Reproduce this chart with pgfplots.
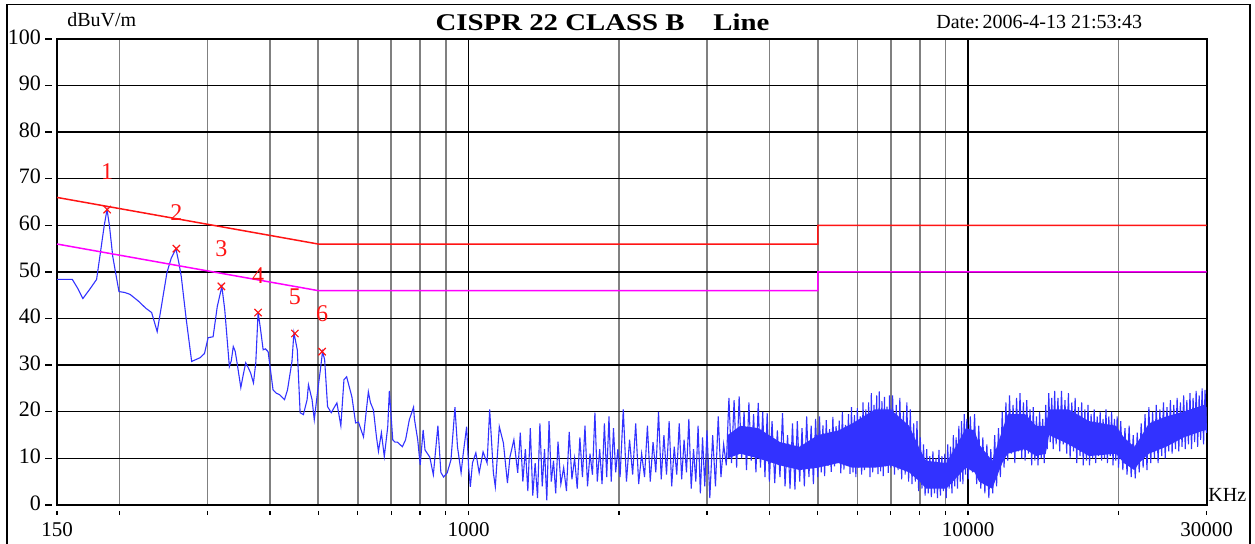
\documentclass[border=0pt]{standalone}
\usepackage{fontspec}
\setmainfont{Liberation Serif}
\usepackage{graphicx}
\usepackage{pgfplots}
\pgfplotsset{compat=1.18}
\definecolor{traceblue}{RGB}{50,50,255}
\definecolor{limred}{RGB}{255,20,20}
\definecolor{limmag}{RGB}{255,0,255}
\definecolor{gridgray}{RGB}{128,128,128}
\begin{document}
\begin{tikzpicture}[x=1pt,y=1pt]
\path[use as bounding box] (0,0) rectangle (627.5,272);
\draw[line width=0.8pt] (3.5,-2) -- (3.5,269.75) -- (625,269.75) -- (625,-2);
\begin{axis}[
  at={(28.5pt,19.5pt)}, anchor=south west,
  scale only axis, width=574.75pt, height=233pt,
  xmode=log, xmin=150, xmax=30000, ymin=0, ymax=100,
  xtick={150,1000,10000,30000}, xticklabels={150,1000,10000,30000},
  minor xtick={200,300,400,500,600,700,800,900,2000,3000,4000,5000,6000,7000,8000,9000,20000},
  ytick={0,10,20,30,40,50,60,70,80,90,100},
  yticklabels={0,10,20,30,40,50,60,70,80,90,100},
  grid=both,
  major grid style={black, line width=0.7pt},
  minor grid style={gridgray, line width=0.8pt},
  axis line style={line width=1pt},
  tick style={draw=none},
  xticklabel style={font=\fontsize{10.5pt}{12pt}\selectfont, anchor=base, yshift=-16pt},
  yticklabel style={font=\fontsize{11pt}{13pt}\selectfont, anchor=east, xshift=-4.5pt, yshift=1pt},
  clip=false,
]
% solid core of the dense part of the trace
\addplot[fill=traceblue, draw=none] coordinates {
(3300,15) (3500,17) (3800,16.5) (4200,13.5) (4600,12.5) (5000,15) (5500,16) (5860,17.5) (6500,20.5) (7000,20.5) (7620,17) (8000,12) (8240,9.5) (9040,9) (9500,13) (9900,16.5) (10300,16) (10520,13) (11170,9.5) (11700,16) (12000,19.5) (13000,19.5) (13680,17) (14300,17) (14520,20.5) (15900,20.5) (17460,18) (19770,17) (20500,14.5) (21500,12.5) (21985,14) (23000,17.5) (24900,19) (27000,20) (29660,21.5) (30000,21)
(30000,16) (29660,16) (27000,14.5) (24900,12.5) (23000,11) (21985,9) (21500,7.5) (20500,9) (19770,11) (17460,10.5) (15900,13) (14520,15) (14300,11) (13680,10.5) (13000,12) (12000,11) (11700,9) (11170,3.5) (10520,5) (10300,7) (9900,8) (9500,6) (9040,3.5) (8240,3.5) (8000,5) (7620,7) (7000,8.5) (6500,8) (5860,8) (5500,9) (5000,8) (4600,7.5) (4200,8.5) (3800,10) (3500,11) (3300,10)
} -- cycle;
% measured trace
\addplot[traceblue, line width=0.55pt] coordinates {
(150,48.4) (161,48.4) (165,46.5) (169,44.3) (175,46.5) (180,48.4) (183.6,54.8) (186.5,60) (188.9,63.4) (191,60) (194,53.3) (199.6,45.8) (205,45.6) (210,45.2) (218,43.8) (226,42.2) (232,41.3) (238,37.2) (243,43) (249,49.9) (254,53) (259.5,55.0) (263,52) (266,49) (272,40) (279,30.8) (290,31.6) (296,32.5) (301,35.9) (308,36.1) (314,42.6) (320.7,46.9) (325,41.9) (332,29.7) (335,31) (338,34) (341,33) (344,30.5) (350,25.2) (354,28) (358,30.5) (362,29.5) (366,28.4) (371,26.2) (375,30.5) (379,41.3) (383,38) (388,33.3) (392,33.5) (397,32.9) (406,24.7) (412,24) (418,23.7) (428,22.6) (434,24.7) (443,30.8) (447,37.0) (454,33.3) (460,19.8) (467,19.4) (475,22.6) (478,25.8) (486,22.6) (491,18.3) (499,24.7) (505,29) (510,32.9) (515,31.2) (522,21.1) (531,19.8) (538,20.9) (545,21.9) (555,17.0) (563,26.9) (570,27.5) (584,23.2) (594,17.6) (602,17.8) (616,14.6) (630,24.3) (636,22.0) (645,20.4) (654,14.6) (660,11.5) (669,15.5) (678,10.4) (689,16.8) (694,24.5) (705,14.0) (712,13.5) (720,13.5) (737,12.5) (748,14) (761,18.3) (776,21.0) (779,18.5) (791,14) (800,8.6) (811,16.1) (818,11.8) (836,10.3) (850,6.5) (868,17.0) (880,7.0) (891,6.0) (906,6.9) (922,9.7) (939,21.0) (950,12.5) (966,6.9) (975,10.8) (991,16.8) (1000,8.2) (1008,3.9) (1018,9.0) (1034,11.2) (1050,6.9) (1069,11.4) (1089,9.0) (1102,20.5) (1121,6.9) (1131,3.9) (1152,16.8) (1174,13.3) (1196,4.7) (1210,10.3) (1232,14) (1254,6.9)
(1269,15.5) (1284,5.0) (1299,12.0) (1314,3.0) (1329,16.5) (1344,2.0) (1359,9.0) (1374,1.5) (1389,17.5) (1404,4.0) (1419,12.0) (1434,1.0) (1449,18.0) (1464,5.0) (1479,9.5) (1494,2.5)
(1510,13.6) (1530,4.5) (1550,8.0) (1570,3.0) (1590,15.7) (1610,5.5) (1630,10.0) (1650,3.5) (1670,14.5) (1690,6.0) (1710,17.0) (1730,4.0) (1750,11.0) (1770,6.5) (1790,19.8) (1810,5.0) (1830,12.0) (1850,4.5) (1870,17.5) (1890,6.0) (1910,19.0) (1930,5.0) (1950,16.5) (1970,7.0) (1990,12.0)
(2010,6.0) (2040,20.5) (2070,5.0) (2100,14.0) (2130,6.5) (2160,17.5) (2190,4.5) (2220,11.0) (2250,6.0) (2280,17.0) (2310,5.0) (2340,13.5) (2370,7.0) (2400,20.0) (2430,5.5) (2460,15.0) (2490,6.5) (2520,18.0) (2550,4.0) (2580,12.5) (2610,6.5) (2640,17.5) (2670,5.5) (2700,14.0) (2730,7.0) (2760,18.5) (2790,3.5) (2820,12.0) (2850,5.0) (2880,17.0) (2910,2.5) (2940,14.5) (2970,4.0) (3000,16.0)
(3040,1.5) (3080,15.0) (3120,4.0) (3160,19.0) (3200,6.0) (3240,13.0) (3280,8.5) (3320,23.0) (3360,9.0) (3400,22.5) (3440,8.0) (3480,23.3) (3520,10.0) (3560,20.0) (3600,7.5) (3640,22.0) (3680,9.5) (3720,19.5) (3760,7.0) (3800,21.9) (3840,8.0) (3880,20.0) (3920,6.0) (3960,19.7) (4000,5.0)
(4050,18.0) (4100,4.7) (4150,16.0) (4200,6.0) (4250,19.7) (4300,4.0) (4350,15.0) (4400,3.5) (4450,17.5) (4500,3.3) (4550,18.0) (4600,5.0) (4650,16.5) (4700,4.0) (4750,19.0) (4800,6.0) (4850,17.0) (4900,4.5) (4950,18.5) (5000,6.0)
(5040,19.0) (5080,7.0) (5120,17.1) (5160,6.2) (5200,18.2) (5240,8.4) (5280,16.3) (5320,7.1) (5360,18.9) (5400,8.3) (5440,16.9) (5480,10.0) (5520,18.1) (5560,6.8) (5600,20.0) (5640,7.6) (5680,17.2) (5720,8.9) (5760,19.5) (5800,6.7) (5840,21.0) (5880,7.0) (5920,19.3) (5960,6.0) (6000,20.8) (6040,8.0) (6080,19.0) (6120,6.5) (6160,22.0) (6200,7.5) (6240,20.5) (6280,9.0) (6320,22.0) (6360,6.0) (6400,24.0) (6440,7.0) (6480,21.5) (6520,8.5) (6560,23.5) (6600,6.6) (6640,24.4) (6680,7.2) (6720,22.3) (6760,6.2) (6800,23.2) (6840,8.3) (6880,21.1) (6920,6.9) (6960,23.5) (7000,8.0)
(7060,23.5) (7120,6.5) (7180,21.5) (7240,7.5) (7300,23.0) (7360,5.5) (7420,20.0) (7480,6.5) (7540,22.0) (7600,5.0) (7660,20.5) (7720,4.5) (7780,17.5) (7840,5.0) (7900,18.0) (7960,3.0) (8020,14.5) (8080,3.5) (8140,13.0) (8200,2.0) (8260,12.0) (8320,2.5) (8380,10.5) (8440,1.7) (8500,11.5) (8560,2.5) (8620,10.0) (8680,1.5) (8740,11.8) (8800,2.0) (8860,10.5) (8920,3.0) (8980,11.0) (9040,1.5) (9100,13.0) (9160,3.5) (9220,12.5) (9280,2.5) (9340,15.0) (9400,4.0) (9460,14.5) (9520,3.5) (9580,17.0) (9640,5.0) (9700,18.0) (9760,4.5) (9820,19.5) (9880,6.5) (9940,18.5) (10000,5.5)
(10100,19.0) (10200,7.0) (10300,19.5) (10400,4.5) (10500,17.0) (10600,3.5) (10700,14.5) (10800,2.5) (10900,13.0) (11000,1.5) (11100,12.0) (11200,2.5) (11300,15.0) (11400,4.0) (11500,16.5) (11600,6.0) (11700,20.0) (11800,8.0) (11900,22.0) (12000,9.5) (12100,23.5) (12200,11.0) (12300,21.5) (12400,9.0) (12500,23.0) (12600,11.5) (12700,24.0) (12800,10.0) (12900,22.0) (13000,9.5) (13100,22.5) (13200,11.0) (13300,20.5) (13400,8.5) (13500,21.0) (13600,9.5) (13700,19.0) (13800,8.5) (13900,20.0) (14000,10.0) (14100,18.5) (14200,9.0) (14300,21.5) (14400,12.0) (14500,24.0) (14600,13.5) (14700,23.0) (14800,12.0) (14900,24.5) (15000,13.0)
(15125,23.0) (15250,11.5) (15375,24.5) (15500,13.0) (15625,22.5) (15750,11.0) (15875,24.0) (16000,10.0) (16125,22.0) (16250,11.5) (16375,23.0) (16500,9.0) (16625,21.0) (16750,10.5) (16875,22.0) (17000,8.5) (17125,20.5) (17250,9.5) (17375,21.5) (17500,8.5) (17625,19.5) (17750,10.0) (17875,20.5) (18000,9.0) (18125,19.0) (18250,10.5) (18375,20.0) (18500,9.5) (18625,18.5) (18750,10.0) (18875,20.5) (19000,9.0) (19125,19.0) (19250,10.5) (19375,20.0) (19500,8.5) (19625,18.5) (19750,9.5) (19875,19.0) (20000,8.0)
(20200,18.0) (20400,7.5) (20600,16.5) (20800,6.5) (21000,17.0) (21200,6.0) (21400,15.0) (21600,5.7) (21800,15.5) (22000,7.0) (22200,17.5) (22400,8.0) (22600,19.5) (22800,7.5) (23000,21.0) (23200,9.0) (23400,20.0) (23600,10.0) (23800,21.5) (24000,9.0) (24200,20.5) (24400,10.5) (24600,22.0) (24800,10.0) (25000,21.0) (25200,11.5) (25400,22.5) (25600,11.0) (25800,21.5) (26000,12.0) (26200,23.0) (26400,11.5) (26600,22.0) (26800,12.5) (27000,23.5) (27200,12.0) (27400,22.5) (27600,13.0) (27800,24.0) (28000,12.0) (28200,23.0) (28400,13.5) (28600,24.5) (28800,12.5) (29000,23.5) (29200,14.0) (29400,25.0) (29600,13.0) (29800,24.7) (30000,15.5)
};
% limit lines
\addplot[limred, line width=0.75pt] coordinates {(150,66) (500,56) (5000,56) (5000,60) (30000,60)};
\addplot[limmag, line width=0.75pt] coordinates {(150,56) (500,46) (5000,46) (5000,50) (30000,50)};
% peak markers
\addplot[only marks, mark=x, mark size=2.6pt, limred, mark options={line width=0.6pt}] coordinates {(189,63.4) (260,55.0) (320,46.9) (379,41.3) (449,36.8) (509,32.9)};
\addplot[only marks, mark=none, nodes near coords, point meta=explicit symbolic, nodes near coords align=center,
  every node near coord/.append style={text=limred, font=\fontsize{12pt}{14pt}\selectfont, inner sep=0pt}]
  table[meta=lab] {
x y lab
189 71.6 1
260 62.8 2
320 55.1 3
379 49.2 4
449 44.7 5
509 41.1 6
};
% tick marks (detached from the frame, as in the reference)
\pgfplotsinvokeforeach{0,10,20,30,40,50,60,70,80,90,100}{\draw[line width=0.7pt] ([xshift=-6pt]axis cs:150,#1) -- ([xshift=-2.5pt]axis cs:150,#1);}
\pgfplotsinvokeforeach{150,200,300,400,500,600,700,800,900,1000,2000,3000,4000,5000,6000,7000,8000,9000,10000,20000,30000}{\draw[line width=0.7pt] ([yshift=-3pt]axis cs:#1,0) -- ([yshift=-5pt]axis cs:#1,0);}
\end{axis}
\node[anchor=base, inner sep=0pt] at (301.25,256.5) {\fontsize{12pt}{14pt}\selectfont\bfseries\scalebox{1.2}[1]{CISPR 22 CLASS B\hspace{12pt}Line}};
\node[anchor=base west, inner sep=0pt] at (468,257.8) {\fontsize{10pt}{12pt}\selectfont Date:\kern1.5pt 2006-4-13 21:53:43};
\node[anchor=base west, inner sep=0pt] at (33.5,258.7) {\fontsize{10pt}{12pt}\selectfont dBuV/m};
\node[anchor=base west, inner sep=0pt] at (604,21) {\fontsize{10pt}{12pt}\selectfont KHz};
\end{tikzpicture}
\end{document}
